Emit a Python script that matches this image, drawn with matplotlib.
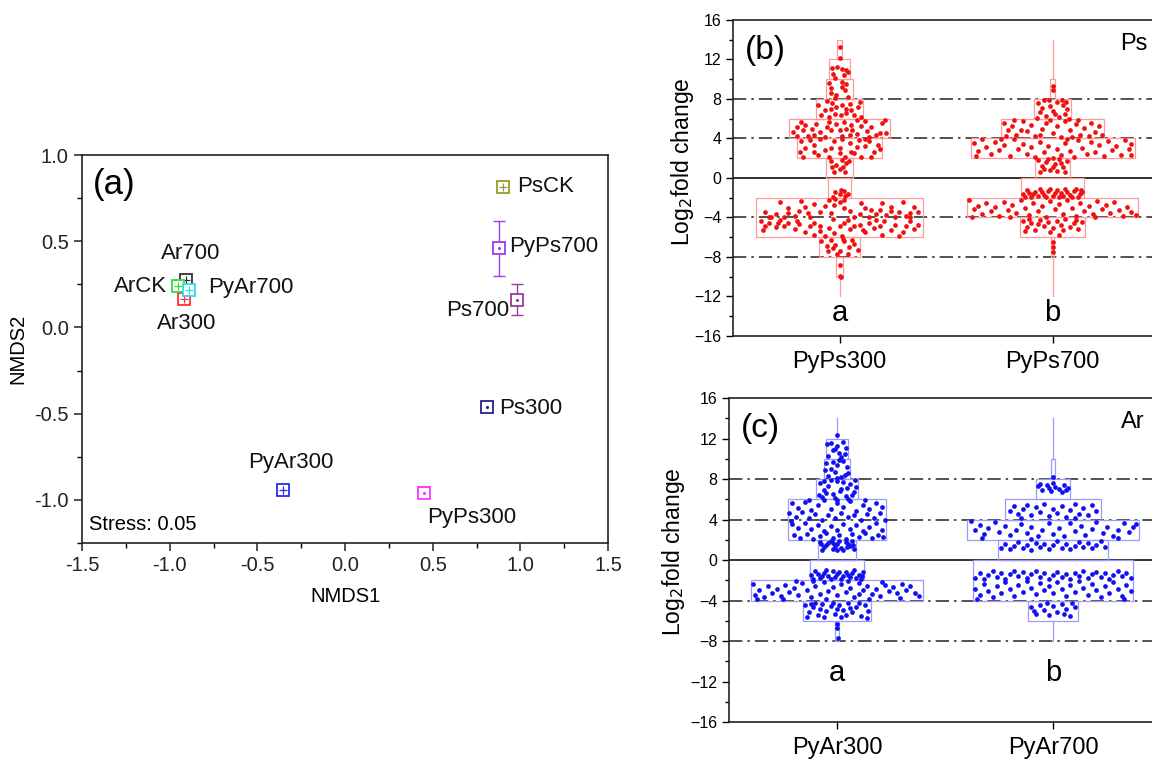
import matplotlib.pyplot as plt
from matplotlib.patches import Rectangle
from matplotlib.ticker import MultipleLocator

plt.rcParams['font.family'] = ['Liberation Sans', 'DejaVu Sans']
plt.rcParams['axes.linewidth'] = 1.2
plt.rcParams['axes.edgecolor'] = '#222222'

# ---- panel (a): NMDS ordination
samples = ['PsCK', 'PyPs700', 'Ps700', 'Ps300', 'PyPs300',
           'PyAr300', 'Ar300', 'Ar700', 'ArCK', 'PyAr700']
nmds1 = [0.90, 0.88, 0.98, 0.81, 0.45, -0.354, -0.917, -0.907, -0.95, -0.89]
nmds2 = [0.817, 0.46, 0.16, -0.46, -0.96, -0.94, 0.167, 0.273, 0.238, 0.22]
nmds2_err = [0, 0.16, 0.09, 0.02, 0, 0, 0, 0, 0, 0]
stress = 0.05

# label anchor (x, y, ha) for each sample
labels_at = {
    'PsCK': (0.98, 0.817, 'left'), 'PyPs700': (0.935, 0.47, 'left'),
    'Ps700': (0.935, 0.10, 'right'), 'Ps300': (0.88, -0.47, 'left'),
    'PyPs300': (0.47, -1.10, 'left'), 'PyAr300': (-0.55, -0.785, 'left'),
    'Ar300': (-1.07, 0.023, 'left'), 'Ar700': (-1.05, 0.427, 'left'),
    'ArCK': (-1.32, 0.235, 'left'), 'PyAr700': (-0.78, 0.23, 'left'),
}
colors = {'PsCK': '#9a9a2a', 'PyPs700': '#9b3cf0', 'Ps700': '#9a3a9a',
          'Ps300': '#22228a', 'PyPs300': '#ff30ff', 'PyAr300': '#2a2af0',
          'Ar300': '#ff3030', 'Ar700': '#333333', 'ArCK': '#30e030',
          'PyAr700': '#30d8f0'}
inner = {'PsCK': '+', 'PyPs700': '.', 'Ps700': '.', 'Ps300': '.',
         'PyPs300': '.', 'PyAr300': '+', 'Ar300': '+', 'Ar700': '+',
         'ArCK': '+', 'PyAr700': '+'}

# ---- panels (b), (c): log2 fold change distributions
ps_groups = ['PyPs300', 'PyPs700']
ar_groups = ['PyAr300', 'PyAr700']
ps_letters = ['a', 'b']
ar_letters = ['a', 'b']

# histogram boxes (low, high, half width) and whisker lines (low, high)
pyps300_bins = [(12, 14, 0.012), (10, 12, 0.05), (8, 10, 0.063), (6, 8, 0.11),
                (4, 6, 0.235), (2, 4, 0.198), (0, 2, 0.062), (-2, 0, 0.054),
                (-6, -2, 0.39), (-8, -6, 0.095), (-10, -8, 0.015)]
pyps300_whisk = [(-12, -10)]
pyps700_bins = [(8, 10, 0.011), (6, 8, 0.085), (4, 6, 0.24), (2, 4, 0.385),
                (0, 2, 0.08), (-2, 0, 0.147), (-4, -2, 0.40), (-6, -4, 0.152),
                (-8, -6, 0.006)]
pyps700_whisk = [(10, 14), (-12, -8)]
pyar300_bins = [(10, 12, 0.052), (8, 10, 0.062), (6, 8, 0.095), (2, 6, 0.225),
                (0, 2, 0.09), (-2, 0, 0.127), (-4, -2, 0.40), (-6, -4, 0.158),
                (-8, -6, 0.01)]
pyar300_whisk = [(12, 14)]
pyar700_bins = [(8, 10, 0.01), (6, 8, 0.08), (4, 6, 0.22), (2, 4, 0.40),
                (0, 2, 0.253), (-4, 0, 0.37), (-6, -4, 0.117)]
pyar700_whisk = [(10, 14), (-8, -6)]

# points: (offset from category centre, log2 fold change)
pyps300_pts = [
    (0.0, 13.3), (0.0, 12.2),
    (-0.01, 11.2), (0.01, 11.0), (0.03, 10.9), (-0.03, 10.5), (0.02, 10.4), (-0.02, 10.1),
    (-0.035, 11.1), (0.04, 10.7),
    (-0.05, 9.6), (-0.04, 9.1), (0.01, 9.2), (0.025, 8.9), (-0.015, 8.4), (0.04, 8.2),
    (0.01, 9.7), (-0.04, 8.6), (0.03, 9.5), (-0.02, 8.1),
    (-0.1, 7.4), (-0.07, 6.9), (-0.04, 7.0), (-0.015, 7.2), (0.01, 7.4), (0.03, 7.0),
    (0.055, 6.9), (0.085, 7.2), (-0.085, 6.4), (-0.05, 6.2), (-0.02, 6.5), (0.005, 6.4),
    (0.03, 6.6), (0.07, 6.4), (0.1, 6.2), (-0.035, 7.6), (0.05, 7.5), (0.095, 7.7), (-0.06, 7.8),
    (-0.22, 4.7), (-0.2, 5.2), (-0.18, 5.7), (-0.16, 5.4), (-0.13, 5.0), (-0.11, 5.5),
    (-0.09, 4.7), (-0.06, 5.2), (-0.04, 4.9), (-0.015, 5.5), (0.01, 4.3), (0.03, 5.0),
    (0.055, 5.4), (0.08, 4.5), (0.1, 5.3), (0.13, 4.8), (0.15, 5.2), (0.17, 4.4),
    (0.2, 5.6), (0.22, 4.6), (-0.2, 4.3), (-0.15, 4.3), (-0.07, 4.2), (0.0, 4.9),
    (0.05, 4.4), (0.14, 4.2), (0.19, 4.6), (-0.05, 5.7), (0.02, 5.7), (0.12, 5.8),
    (-0.12, 4.4), (0.08, 5.9), (-0.17, 4.9), (0.215, 5.9), (0.06, 4.9),
    (-0.18, 3.7), (-0.16, 3.0), (-0.14, 3.8), (-0.12, 3.3), (-0.1, 2.3), (-0.07, 2.8),
    (-0.05, 2.1), (-0.025, 3.7), (0.0, 3.0), (0.025, 2.1), (0.05, 3.5), (0.07, 2.5),
    (0.09, 3.8), (0.12, 3.2), (0.14, 3.7), (0.16, 2.6), (0.18, 3.3), (-0.17, 2.1),
    (-0.09, 3.9), (0.01, 3.9), (0.1, 2.1), (0.15, 2.1), (-0.04, 3.0), (0.055, 2.6),
    (-0.12, 2.6), (0.19, 2.9), (-0.185, 2.6), (0.12, 3.95), (0.0, 2.5), (0.08, 3.1),
    (-0.04, 1.7), (-0.015, 1.3), (0.01, 1.8), (0.03, 1.5), (-0.025, 0.6), (0.0, 0.9),
    (0.025, 0.6), (0.045, 1.7), (-0.035, 1.1), (0.015, 1.1),
    (-0.02, -1.4), (0.0, -1.6), (0.02, -1.3), (-0.03, -1.9), (0.025, -1.8), (0.005, -1.2),
    (0.04, -1.6),
    (-0.35, -3.4), (-0.33, -4.0), (-0.3, -3.6), (-0.28, -2.4), (-0.26, -3.9), (-0.24, -3.5),
    (-0.21, -3.8), (-0.19, -3.3), (-0.16, -2.9), (-0.14, -3.9), (-0.12, -2.6), (-0.09, -3.4),
    (-0.07, -2.8), (-0.05, -2.2), (-0.025, -2.7), (0.0, -2.4), (0.02, -3.0), (0.05, -3.3),
    (0.07, -3.9), (0.095, -3.6), (0.12, -3.0), (0.14, -3.9), (0.17, -3.6), (0.19, -3.2),
    (0.22, -3.7), (0.24, -3.3), (0.26, -3.9), (0.28, -3.4), (0.31, -3.8), (0.33, -3.5),
    (0.35, -2.9), (0.37, -3.4), (-0.32, -3.9), (-0.24, -3.0), (-0.15, -3.5), (-0.04, -3.5),
    (0.15, -3.2), (0.24, -2.9), (0.33, -3.9), (0.02, -2.2), (-0.02, -2.1), (0.3, -2.4),
    (-0.18, -2.3), (0.1, -2.5), (0.2, -2.5),
    (-0.37, -4.4), (-0.35, -4.9), (-0.33, -4.6), (-0.3, -5.0), (-0.28, -4.3), (-0.26, -4.9),
    (-0.24, -4.6), (-0.21, -5.2), (-0.19, -4.7), (-0.16, -5.5), (-0.14, -4.9), (-0.12, -4.6),
    (-0.09, -5.4), (-0.07, -5.9), (-0.05, -5.1), (-0.025, -5.6), (0.0, -4.9), (0.02, -4.6),
    (0.05, -5.2), (0.07, -4.9), (0.095, -4.8), (0.12, -5.5), (0.14, -4.6), (0.16, -5.1),
    (0.19, -4.9), (0.21, -4.4), (0.24, -5.3), (0.26, -4.8), (0.28, -5.9), (0.31, -4.9),
    (0.33, -4.4), (0.35, -5.2), (0.37, -4.8), (-0.36, -5.3), (-0.29, -4.6), (-0.2, -4.4),
    (-0.09, -4.9), (0.01, -5.9), (0.11, -5.3), (0.2, -5.8), (0.3, -5.5), (-0.12, -5.8),
    (0.04, -4.3), (0.17, -4.3), (-0.03, -4.2),
    (-0.085, -6.4), (-0.06, -6.9), (-0.04, -6.3), (-0.02, -6.8), (0.0, -7.4), (0.02, -6.4),
    (0.045, -7.0), (0.07, -6.7), (-0.055, -7.4), (-0.01, -7.7), (0.04, -7.7), (-0.03, -7.1),
    (0.06, -6.3), (0.085, -7.3), (0.015, -6.2),
    (0.0, -8.8), (0.0, -9.9), (0.005, -10.0),
]
pyps700_pts = [
    (0.0, 9.3), (0.003, 8.9),
    (-0.07, 7.6), (-0.04, 7.9), (-0.01, 7.3), (0.02, 7.7), (0.05, 7.4), (0.07, 7.0),
    (-0.06, 6.7), (-0.03, 6.3), (0.0, 6.8), (0.03, 6.2), (0.06, 6.5), (-0.075, 6.1),
    (0.045, 7.9), (-0.015, 7.9), (0.075, 6.0), (0.01, 6.5), (-0.05, 7.1), (0.065, 7.7),
    (-0.23, 5.6), (-0.21, 4.9), (-0.19, 5.3), (-0.17, 4.4), (-0.14, 5.8), (-0.12, 4.8),
    (-0.1, 5.4), (-0.08, 4.3), (-0.05, 5.0), (-0.03, 5.6), (0.0, 4.6), (0.02, 5.3),
    (0.04, 4.2), (0.06, 5.8), (0.08, 4.9), (0.11, 5.5), (0.13, 4.4), (0.15, 5.1),
    (0.18, 5.6), (0.2, 4.7), (0.22, 5.3), (-0.22, 4.3), (-0.15, 4.9), (-0.06, 4.4),
    (0.09, 4.2), (0.17, 4.3), (0.23, 4.4), (-0.01, 5.9), (0.12, 5.9), (-0.18, 5.9),
    (-0.37, 3.5), (-0.35, 2.7), (-0.33, 3.9), (-0.31, 3.1), (-0.29, 2.4), (-0.27, 3.6),
    (-0.25, 2.8), (-0.23, 3.3), (-0.2, 2.2), (-0.18, 3.9), (-0.16, 2.9), (-0.14, 3.4),
    (-0.12, 2.4), (-0.1, 3.1), (-0.08, 2.1), (-0.06, 3.6), (-0.04, 2.6), (-0.02, 3.2),
    (0.0, 2.0), (0.02, 2.9), (0.04, 2.3), (0.06, 3.5), (0.08, 2.7), (0.1, 2.1),
    (0.12, 3.8), (0.14, 3.0), (0.16, 2.4), (0.18, 3.6), (0.2, 2.6), (0.22, 3.3),
    (0.24, 2.2), (0.26, 3.7), (0.28, 2.8), (0.3, 3.2), (0.32, 2.3), (0.34, 3.8),
    (0.36, 2.9), (0.37, 3.4), (-0.36, 2.2), (0.37, 2.3), (-0.24, 3.95), (0.07, 3.9),
    (-0.07, 1.8), (-0.05, 1.2), (-0.03, 1.6), (-0.01, 0.8), (0.01, 1.4), (0.03, 1.9),
    (0.05, 1.1), (0.07, 1.7), (-0.06, 0.6), (0.02, 0.7), (0.06, 0.6), (-0.02, 1.9),
    (0.04, 1.5), (-0.04, 0.9), (0.0, 1.1),
    (-0.14, -1.6), (-0.12, -1.2), (-0.1, -1.9), (-0.08, -1.4), (-0.06, -1.1), (-0.04, -1.7),
    (-0.02, -1.3), (0.0, -1.8), (0.02, -1.2), (0.04, -1.5), (0.06, -1.1), (0.08, -1.7),
    (0.1, -1.3), (0.12, -1.9), (0.14, -1.4), (-0.13, -1.9), (-0.09, -1.6), (-0.05, -1.4),
    (-0.01, -1.1), (0.03, -1.9), (0.07, -1.4), (0.11, -1.1), (0.13, -1.6), (-0.11, -1.5),
    (0.05, -1.8), (-0.03, -1.9), (0.09, -1.9), (0.01, -1.5), (-0.07, -1.8), (0.135, -1.2),
    (-0.39, -2.2), (-0.37, -3.1), (-0.35, -2.8), (-0.33, -3.6), (-0.31, -2.5), (-0.29, -3.3),
    (-0.27, -2.9), (-0.25, -3.8), (-0.23, -2.4), (-0.21, -3.2), (-0.19, -2.7), (-0.17, -3.5),
    (-0.15, -2.2), (-0.13, -3.0), (-0.11, -3.7), (-0.09, -2.5), (-0.07, -3.3), (-0.05, -2.8),
    (-0.03, -3.9), (-0.01, -2.3), (0.01, -3.1), (0.03, -2.6), (0.05, -3.6), (0.07, -2.2),
    (0.09, -3.0), (0.11, -3.8), (0.13, -2.5), (0.15, -3.3), (0.17, -2.8), (0.19, -3.6),
    (0.21, -2.3), (0.23, -3.1), (0.25, -2.7), (0.27, -3.5), (0.29, -2.4), (0.31, -3.2),
    (0.33, -3.8), (0.35, -2.9), (0.37, -3.4), (0.39, -3.7), (-0.38, -3.9), (0.2, -3.95),
    (-0.2, -3.9),
    (-0.14, -4.4), (-0.12, -5.0), (-0.1, -4.6), (-0.08, -5.3), (-0.06, -4.3), (-0.04, -4.9),
    (-0.02, -4.5), (0.0, -5.1), (0.02, -4.4), (0.04, -4.8), (0.06, -4.2), (0.08, -5.0),
    (0.1, -4.6), (0.12, -5.2), (0.14, -4.5), (-0.13, -5.4), (-0.07, -4.7), (-0.01, -5.5),
    (0.05, -5.3), (0.11, -4.3), (-0.11, -4.2), (0.03, -5.8),
    (0.0, -6.5), (0.0, -7.0), (0.0, -7.5),
]
pyar300_pts = [
    (0.0, 12.3),
    (-0.03, 11.6), (0.0, 11.3), (0.03, 11.7), (-0.02, 10.9), (0.01, 10.6), (0.04, 11.1),
    (-0.04, 10.3), (0.02, 10.2), (-0.01, 11.0), (0.035, 10.5), (-0.045, 11.5),
    (-0.05, 9.6), (-0.03, 9.0), (0.0, 9.4), (0.03, 9.8), (0.05, 8.6), (-0.04, 8.3),
    (-0.01, 8.7), (0.02, 8.2), (0.045, 9.2), (-0.055, 8.9), (0.01, 9.9), (-0.02, 9.7),
    (0.035, 8.4), (0.0, 8.1),
    (-0.08, 7.6), (-0.06, 6.9), (-0.04, 7.3), (-0.02, 6.5), (0.0, 7.8), (0.02, 7.0),
    (0.04, 6.3), (0.06, 7.5), (0.08, 6.7), (0.09, 7.2), (-0.07, 6.2), (-0.05, 6.6),
    (-0.01, 6.1), (0.03, 7.7), (0.05, 6.0), (0.07, 6.4), (-0.085, 6.4), (-0.03, 7.9),
    (0.015, 6.8), (0.085, 7.9), (-0.06, 7.8), (0.045, 7.1),
    (-0.21, 5.6), (-0.18, 5.1), (-0.15, 5.7), (-0.12, 4.9), (-0.09, 5.4), (-0.06, 5.9),
    (-0.03, 5.0), (0.0, 5.6), (0.03, 5.2), (0.06, 5.8), (0.09, 4.8), (0.12, 5.4),
    (0.15, 5.0), (0.18, 5.6), (0.21, 5.2),
    (-0.22, 4.6), (-0.19, 4.2), (-0.16, 4.7), (-0.13, 4.1), (-0.1, 4.5), (-0.07, 4.0),
    (-0.04, 4.4), (-0.01, 4.1), (0.02, 4.6), (0.05, 4.2), (0.08, 4.4), (0.11, 4.0),
    (0.14, 4.5), (0.17, 4.1), (0.2, 4.6), (0.22, 4.0),
    (-0.21, 3.6), (-0.18, 3.2), (-0.15, 3.7), (-0.12, 3.1), (-0.09, 3.5), (-0.06, 2.9),
    (-0.03, 3.4), (0.0, 3.0), (0.03, 3.6), (0.06, 3.1), (0.09, 3.5), (0.12, 2.9),
    (0.15, 3.3), (0.18, 3.7), (0.21, 3.0),
    (-0.2, 2.5), (-0.17, 2.2), (-0.14, 2.6), (-0.11, 2.1), (-0.08, 2.4), (-0.05, 2.7),
    (-0.02, 2.2), (0.01, 2.5), (0.04, 2.1), (0.07, 2.6), (0.1, 2.3), (0.13, 2.7),
    (0.16, 2.2), (0.19, 2.5), (0.215, 2.3), (-0.215, 3.9), (0.0, 5.95), (0.13, 5.9),
    (-0.13, 5.95),
    (-0.08, 1.8), (-0.06, 1.3), (-0.04, 1.7), (-0.02, 1.1), (0.0, 1.6), (0.02, 1.2),
    (0.04, 1.8), (0.06, 1.4), (0.08, 1.1), (-0.07, 1.0), (-0.05, 1.5), (-0.03, 1.9),
    (-0.01, 1.4), (0.01, 1.9), (0.03, 1.0), (0.05, 1.6), (0.07, 1.9), (-0.075, 1.6),
    (0.075, 1.5), (0.0, 1.0), (-0.02, 1.7), (0.045, 1.3),
    (-0.12, -1.5), (-0.1, -1.1), (-0.08, -1.8), (-0.06, -1.3), (-0.04, -1.6), (-0.02, -1.1),
    (0.0, -1.4), (0.02, -1.9), (0.04, -1.2), (0.06, -1.7), (0.08, -1.0), (0.1, -1.5),
    (0.12, -1.2), (-0.11, -1.9), (-0.07, -1.6), (-0.03, -1.9), (0.01, -1.2), (0.05, -1.5),
    (0.09, -1.8), (-0.05, -1.0), (0.03, -1.6), (0.11, -1.9), (-0.09, -1.4), (0.07, -1.3),
    (-0.01, -1.7), (0.115, -1.6),
    (-0.39, -2.4), (-0.38, -3.5), (-0.36, -3.0), (-0.34, -3.7), (-0.32, -2.6), (-0.3, -3.3),
    (-0.28, -2.9), (-0.26, -3.6), (-0.24, -2.5), (-0.22, -3.2), (-0.2, -2.8), (-0.18, -3.5),
    (-0.16, -2.3), (-0.14, -3.0), (-0.12, -3.7), (-0.1, -2.6), (-0.08, -3.4), (-0.06, -2.2),
    (-0.04, -3.1), (-0.02, -2.7), (0.0, -3.5), (0.02, -2.4), (0.04, -3.2), (0.06, -2.8),
    (0.08, -3.7), (0.1, -2.3), (0.12, -3.0), (0.14, -2.6), (0.16, -3.4), (0.18, -2.9),
    (0.2, -3.6), (0.22, -2.5), (0.24, -3.1), (0.26, -2.7), (0.28, -3.3), (0.3, -2.4),
    (0.32, -3.0), (0.34, -2.6), (0.36, -3.3), (0.38, -3.6), (-0.37, -3.9), (-0.25, -3.9),
    (-0.11, -2.1), (0.05, -2.1), (0.15, -3.9), (0.29, -3.8), (-0.19, -2.1), (0.21, -2.2),
    (-0.05, -3.9), (0.1, -3.4),
    (-0.15, -4.4), (-0.13, -5.1), (-0.11, -4.6), (-0.09, -5.4), (-0.07, -4.3), (-0.05, -5.0),
    (-0.03, -4.5), (-0.01, -5.3), (0.01, -4.4), (0.03, -4.9), (0.05, -4.2), (0.07, -5.1),
    (0.09, -4.6), (0.11, -5.5), (0.13, -4.4), (0.145, -5.0), (-0.14, -5.6), (-0.1, -4.2),
    (-0.06, -5.6), (-0.02, -4.2), (0.02, -5.6), (0.06, -4.7), (0.1, -4.2), (0.14, -5.7),
    (-0.08, -4.8), (0.04, -5.4), (-0.12, -4.3), (0.0, -4.8),
    (0.0, -6.3), (0.0, -6.7), (0.005, -7.7),
]
pyar700_pts = [
    (0.0, 8.2),
    (-0.07, 7.3), (-0.05, 6.9), (-0.03, 7.4), (-0.01, 6.8), (0.01, 7.2), (0.03, 7.0),
    (0.05, 7.4), (0.07, 7.1), (-0.06, 7.5), (0.04, 6.7), (-0.02, 7.1), (0.06, 6.9),
    (0.0, 7.6),
    (-0.2, 4.8), (-0.18, 5.3), (-0.16, 4.5), (-0.14, 5.0), (-0.12, 5.4), (-0.1, 4.4),
    (-0.08, 5.2), (-0.06, 4.7), (-0.04, 5.5), (-0.02, 4.3), (0.0, 5.0), (0.02, 4.6),
    (0.04, 5.3), (0.06, 4.2), (0.08, 4.9), (0.1, 5.5), (0.12, 4.5), (0.14, 5.1),
    (0.16, 4.4), (0.18, 5.4), (0.2, 4.8), (-0.15, 4.1), (0.1, 4.1),
    (-0.38, 3.9), (-0.36, 3.0), (-0.34, 3.5), (-0.32, 2.6), (-0.3, 3.2), (-0.27, 3.8),
    (-0.25, 2.8), (-0.22, 3.4), (-0.2, 2.5), (-0.17, 3.0), (-0.15, 3.6), (-0.12, 2.7),
    (-0.1, 3.3), (-0.07, 2.4), (-0.05, 3.0), (-0.02, 3.7), (0.0, 2.6), (0.03, 3.2),
    (0.05, 2.4), (0.08, 3.7), (0.1, 2.9), (0.13, 3.4), (0.15, 2.5), (0.18, 3.1),
    (0.2, 3.8), (0.23, 2.7), (0.25, 3.3), (0.28, 2.4), (0.3, 3.0), (0.33, 3.7),
    (0.35, 2.8), (0.37, 3.3), (0.385, 3.6), (-0.33, 2.2), (0.3, 2.2), (-0.1, 2.1),
    (-0.24, 1.2), (-0.22, 1.6), (-0.2, 1.1), (-0.18, 1.4), (-0.16, 1.8), (-0.14, 1.2),
    (-0.12, 1.5), (-0.1, 1.0), (-0.08, 1.7), (-0.06, 1.3), (-0.04, 1.6), (-0.02, 1.1),
    (0.0, 1.5), (0.02, 1.9), (0.04, 1.2), (0.06, 1.6), (0.08, 1.1), (0.1, 1.4),
    (0.12, 1.8), (0.14, 1.3), (0.16, 1.7), (0.18, 1.2), (0.2, 1.5), (0.22, 1.9),
    (0.24, 1.3),
    (-0.36, -1.8), (-0.34, -1.3), (-0.32, -1.9), (-0.3, -1.5), (-0.28, -1.1), (-0.26, -1.7),
    (-0.24, -1.3), (-0.22, -1.9), (-0.2, -1.4), (-0.18, -1.1), (-0.16, -1.6), (-0.14, -1.2),
    (-0.12, -1.8), (-0.1, -1.4), (-0.08, -1.1), (-0.06, -1.7), (-0.04, -1.3), (-0.02, -1.9),
    (0.0, -1.5), (0.02, -1.2), (0.04, -1.7), (0.06, -1.4), (0.08, -1.9), (0.1, -1.3),
    (0.12, -1.6), (0.14, -1.1), (0.16, -1.8), (0.18, -1.4), (0.2, -1.2), (0.22, -1.7),
    (0.24, -1.3), (0.26, -1.9), (0.28, -1.5), (0.3, -1.1), (0.32, -1.6), (0.34, -1.3),
    (0.36, -1.8),
    (-0.36, -2.9), (-0.34, -3.5), (-0.32, -2.4), (-0.3, -3.1), (-0.28, -3.7), (-0.26, -2.6),
    (-0.24, -3.3), (-0.22, -2.2), (-0.2, -2.9), (-0.18, -3.6), (-0.16, -2.5), (-0.14, -3.2),
    (-0.12, -2.1), (-0.1, -2.8), (-0.08, -3.4), (-0.06, -2.3), (-0.04, -3.0), (-0.02, -2.6),
    (0.0, -3.3), (0.02, -2.2), (0.04, -2.9), (0.06, -3.6), (0.08, -2.5), (0.1, -3.2),
    (0.12, -2.1), (0.14, -2.8), (0.16, -3.5), (0.18, -2.4), (0.2, -3.0), (0.22, -3.7),
    (0.24, -2.6), (0.26, -3.3), (0.28, -2.2), (0.3, -2.9), (0.32, -3.6), (0.34, -2.5),
    (0.36, -3.1), (-0.35, -3.9), (0.33, -3.9),
    (-0.1, -4.6), (-0.08, -5.3), (-0.06, -4.4), (-0.04, -4.9), (-0.02, -5.4), (0.0, -4.5),
    (0.02, -5.1), (0.04, -4.3), (0.06, -4.8), (0.08, -5.5), (0.1, -4.6), (-0.09, -5.0),
    (0.05, -5.3), (-0.03, -4.2), (0.09, -4.2),
]

fig = plt.figure(figsize=(11.52, 7.6), dpi=100)

# ---------------- panel (a)
ax = fig.add_axes([0.0712, 0.2855, 0.4566, 0.5105])
for name, x, y, e in zip(samples, nmds1, nmds2, nmds2_err):
    c = colors[name]
    if e > 0:
        ax.errorbar(x, y, yerr=e, fmt='none', ecolor=c, elinewidth=1.0,
                    capsize=4, capthick=1.0)
    ax.plot(x, y, 's', ms=8, mfc='white', mec=c, mew=1.3)
    if inner[name] == '+':
        ax.plot(x, y, '+', ms=6, color=c, mew=0.9)
    else:
        ax.plot(x, y, '.', ms=2.5, color=c)
    lx, ly, ha = labels_at[name]
    ax.text(lx, ly, name, fontsize=16, ha=ha, va='center', color='#111111')

ax.set_xlim(-1.5, 1.5)
ax.set_ylim(-1.25, 1.0)
ax.xaxis.set_major_locator(MultipleLocator(0.5))
ax.xaxis.set_minor_locator(MultipleLocator(0.25))
ax.yaxis.set_major_locator(MultipleLocator(0.5))
ax.yaxis.set_minor_locator(MultipleLocator(0.25))
ax.xaxis.set_major_formatter(lambda v, p: f'{v:.1f}')
ax.yaxis.set_major_formatter(lambda v, p: f'{v:.1f}')
ax.tick_params(which='major', direction='out', length=6, width=1.1,
               labelsize=14.5, colors='#222222')
ax.tick_params(which='minor', direction='out', length=3.5, width=1.0)
ax.set_xlabel('NMDS1', fontsize=14.5)
ax.set_ylabel('NMDS2', fontsize=14.5)
ax.xaxis.set_label_coords(0.5, -0.113)
ax.yaxis.set_label_coords(-0.104, 0.5)
ax.text(-1.44, 0.83, '(a)', fontsize=25, ha='left', va='center')
ax.text(-1.46, -1.144, f'Stress: {stress:.2f}', fontsize=14.5, ha='left', va='center')


# ---------------- panels (b) and (c)
def draw_swarm(ax, pos, bins, whisk, pts, edge, dot):
    for lo, hi, hw in bins:
        ax.add_patch(Rectangle((pos - hw, lo), 2 * hw, hi - lo, fill=False,
                               ec=edge, lw=0.9, zorder=2))
    for lo, hi in whisk:
        ax.plot([pos, pos], [lo, hi], color=edge, lw=0.9, zorder=2)
    ax.plot([pos + d for d, _ in pts], [v for _, v in pts], 'o', ms=3.4,
            color=dot, mew=0, zorder=3)


def style_fold(ax, groups, letters, letter_y, tag, site, ylab_x, ylab_y):
    ax.set_xlim(0.5, 2.5)
    ax.set_ylim(-16, 16)
    ax.axhline(0, color='#222222', lw=1.3, zorder=1)
    for h in (8, 4, -4, -8):
        ax.axhline(h, color='#333333', lw=1.2, ls=(0, (8, 3, 1.5, 3)), zorder=1)
    ax.set_xticks([1, 2])
    ax.set_xticklabels(groups, fontsize=17)
    ax.yaxis.set_major_locator(MultipleLocator(4))
    ax.yaxis.set_minor_locator(MultipleLocator(2))
    ax.tick_params(axis='y', which='major', direction='out', length=5, width=1.0,
                   labelsize=11.5)
    ax.tick_params(axis='y', which='minor', direction='out', length=3, width=1.0)
    ax.tick_params(axis='x', direction='out', length=5, width=1.0, pad=6)
    ax.set_ylabel('Log$_2$fold change', fontsize=16.5)
    ax.yaxis.set_label_coords(ylab_x, ylab_y)
    for i, s in enumerate(letters):
        ax.text(i + 1, letter_y, s, fontsize=21, ha='center', va='center')
    ax.text(0.028, 0.905, tag, fontsize=24, transform=ax.transAxes,
            ha='left', va='center')
    ax.text(0.908, 0.925, site, fontsize=17, transform=ax.transAxes,
            ha='left', va='center')


bx = fig.add_axes([0.6363, 0.5579, 0.3698, 0.4158])
draw_swarm(bx, 1, pyps300_bins, pyps300_whisk, pyps300_pts, '#ff9a9a', '#f01010')
draw_swarm(bx, 2, pyps700_bins, pyps700_whisk, pyps700_pts, '#ff9a9a', '#f01010')
style_fold(bx, ps_groups, ps_letters, -13.7, '(b)', 'Ps', -0.088, 0.55)

cx = fig.add_axes([0.6328, 0.05, 0.375, 0.4263])
draw_swarm(cx, 1, pyar300_bins, pyar300_whisk, pyar300_pts, '#9a9aff', '#1010f0')
draw_swarm(cx, 2, pyar700_bins, pyar700_whisk, pyar700_pts, '#9a9aff', '#1010f0')
style_fold(cx, ar_groups, ar_letters, -11.2, '(c)', 'Ar', -0.098, 0.525)

fig.savefig('out.png', dpi=100)
